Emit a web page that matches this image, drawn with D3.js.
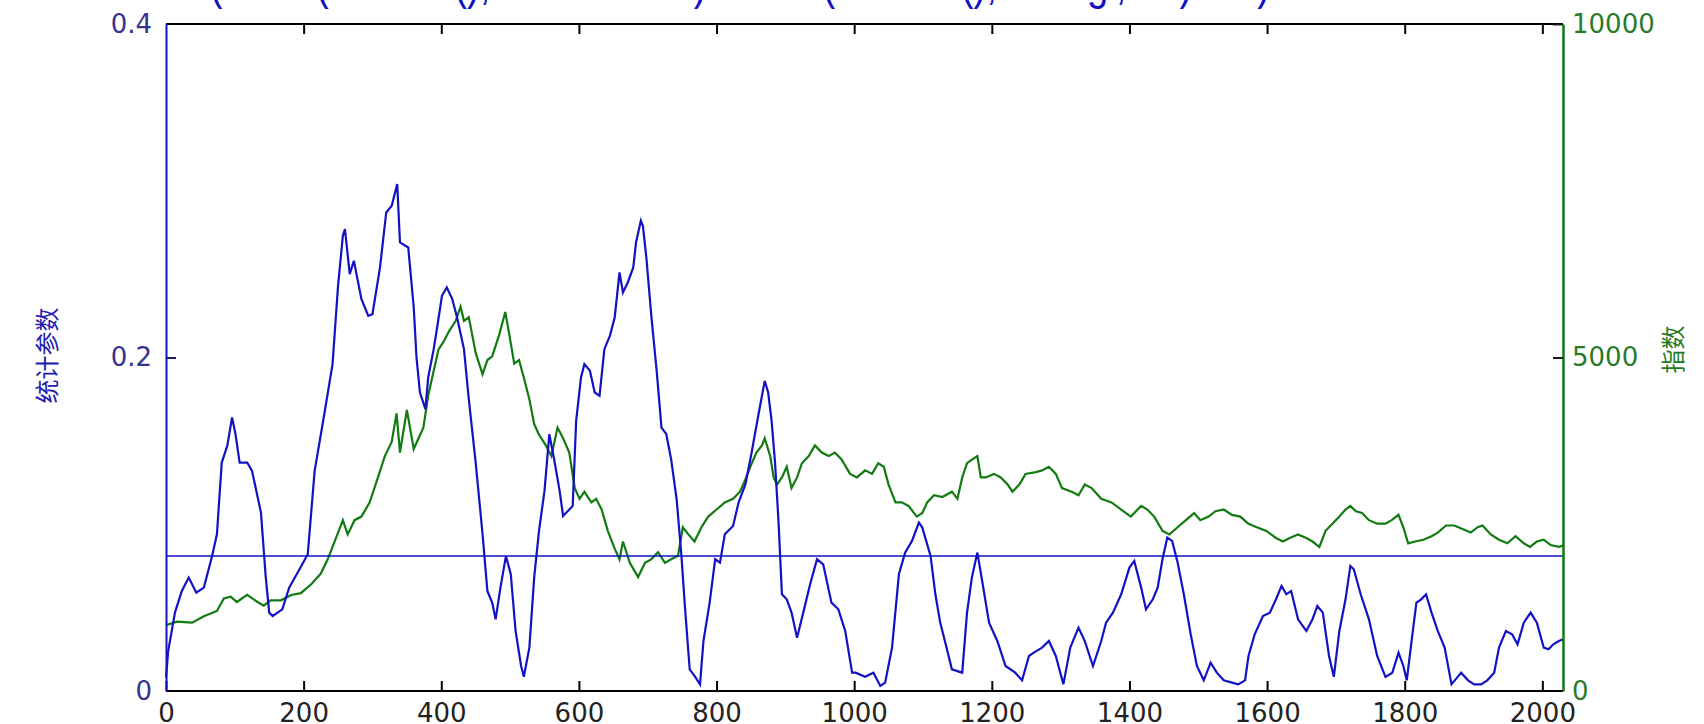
<!DOCTYPE html>
<html>
<head>
<meta charset="utf-8">
<script src="https://cdn.jsdelivr.net/npm/d3@7"></script>
<style>
    body { margin: 0; background: #fff; }
    svg { display: block; }
</style>
</head>
<body>
<script>
// statistic parameter (left axis)
var statX = [0, 1, 3, 13, 23, 33, 44, 55, 67, 74, 81, 89, 96, 101, 107, 118, 125, 138, 145, 150, 155, 169, 179, 194, 206, 216, 230, 242, 250, 257, 260, 267, 273, 284, 294, 300, 311, 320, 328, 336, 340, 352, 360, 364, 369, 377, 381, 389, 394, 401, 408, 416, 423, 433, 440, 450, 460, 467, 474, 479, 486, 494, 501, 508, 516, 520, 528, 535, 542, 550, 557, 564, 572, 577, 584, 591, 596, 603, 608, 616, 623, 630,
    637, 645, 652, 659, 664, 671, 679, 683, 690, 693, 698, 705, 713, 720, 727, 734, 742, 749, 754, 761, 769, 776, 781, 790, 798, 805, 812, 824, 832, 842, 851, 861, 870, 875, 880, 885, 890, 895, 902, 909, 917, 926, 936, 946, 955, 967, 977, 987, 997, 1002, 1016, 1028, 1038, 1045, 1055, 1065, 1074, 1084, 1094, 1099, 1111, 1118, 1125, 1133, 1142, 1157, 1164, 1171, 1179, 1186, 1196, 1208, 1220, 1234, 1244, 1254, 1261, 1273, 1283, 1293,
    1304, 1314, 1326, 1335, 1347, 1359, 1366, 1376, 1388, 1400, 1407, 1417, 1424, 1434, 1441, 1448, 1455, 1462, 1470, 1479, 1489, 1498, 1508, 1518, 1527, 1537, 1549, 1558, 1568, 1573, 1582, 1594, 1604, 1613, 1621, 1628, 1635, 1645, 1657, 1666, 1673, 1681, 1690, 1697, 1705, 1714, 1721, 1726, 1736, 1748, 1760, 1772, 1782, 1791, 1798, 1803, 1810, 1817, 1824, 1831, 1839, 1848, 1858, 1868, 1882, 1892, 1901, 1911, 1920, 1930, 1937, 1947, 1956, 1964, 1973, 1983, 1992, 2002, 2009, 2016, 2024, 2030];
var statY = [0.008, 0.0128, 0.0235, 0.047, 0.06, 0.068, 0.059, 0.062, 0.081, 0.094, 0.137, 0.147, 0.164, 0.154, 0.137, 0.137, 0.132, 0.107, 0.068, 0.047, 0.045, 0.049, 0.062, 0.073, 0.082, 0.132, 0.166, 0.196, 0.243, 0.273, 0.277, 0.25, 0.258, 0.235, 0.225, 0.226, 0.254, 0.287, 0.291, 0.304, 0.269, 0.266, 0.23, 0.2, 0.179, 0.169, 0.188, 0.205, 0.218, 0.237, 0.242, 0.235, 0.224, 0.205, 0.175, 0.137, 0.094, 0.06, 0.053, 0.043, 0.062, 0.081, 0.07, 0.036, 0.015, 0.0085, 0.026, 0.068, 0.096, 0.12, 0.154, 0.139, 0.12, 0.105, 0.108, 0.111, 0.162, 0.188, 0.196, 0.192, 0.179, 0.177,
    0.205, 0.213, 0.224, 0.251, 0.239, 0.245, 0.254, 0.269, 0.282, 0.279, 0.26, 0.226, 0.192, 0.158, 0.154, 0.139, 0.115, 0.081, 0.051, 0.013, 0.0085, 0.004, 0.03, 0.053, 0.079, 0.077, 0.094, 0.099, 0.113, 0.124, 0.143, 0.166, 0.186, 0.179, 0.162, 0.137, 0.102, 0.058, 0.055, 0.047, 0.032, 0.047, 0.064, 0.079, 0.076, 0.053, 0.049, 0.036, 0.011, 0.011, 0.0085, 0.011, 0.003, 0.005, 0.026, 0.07, 0.083, 0.09, 0.101, 0.098, 0.081, 0.058, 0.041, 0.028, 0.013, 0.011, 0.047, 0.068, 0.083, 0.066, 0.041, 0.03, 0.015, 0.011, 0.0064, 0.021, 0.023, 0.026, 0.03, 0.021,
    0.004, 0.026, 0.038, 0.03, 0.015, 0.03, 0.041, 0.047, 0.058, 0.074, 0.078, 0.062, 0.049, 0.055, 0.062, 0.079, 0.092, 0.09, 0.077, 0.058, 0.034, 0.015, 0.0064, 0.017, 0.011, 0.0064, 0.005, 0.004, 0.0064, 0.021, 0.034, 0.045, 0.047, 0.055, 0.063, 0.058, 0.06, 0.043, 0.036, 0.043, 0.051, 0.047, 0.021, 0.0085, 0.036, 0.055, 0.075, 0.073, 0.058, 0.043, 0.021, 0.0085, 0.011, 0.023, 0.015, 0.0064, 0.03, 0.053, 0.055, 0.058, 0.047, 0.036, 0.026, 0.004, 0.011, 0.0064, 0.004, 0.004, 0.0064, 0.011, 0.026, 0.036, 0.034, 0.028, 0.041, 0.047, 0.041, 0.026, 0.025, 0.028, 0.03, 0.031];

// index (right axis)
var indexX = [0, 16, 38, 55, 74, 84, 94, 103, 118, 133, 142, 152, 167, 182, 196, 211, 225, 235, 245, 257, 264, 274, 284, 296, 308, 318, 328, 335, 340, 350, 360, 367, 374, 381, 389, 396, 403, 411, 421, 428, 433, 440, 450, 460, 467, 474, 484, 493, 499, 506, 513, 520, 528, 535, 542, 552, 560, 569, 577, 586, 594, 601, 608, 618, 625,
    633, 642, 652, 659, 664, 674, 686, 696, 705, 715, 725, 734, 744, 751, 759, 768, 778, 788, 800, 812, 824, 834, 841, 849, 858, 866, 870, 878, 883, 888, 895, 902, 909, 917, 924, 934, 943, 953, 963, 972, 982, 994, 1004, 1016, 1026, 1035, 1043, 1050, 1060, 1069, 1079, 1091, 1099, 1106, 1116, 1128, 1142, 1150, 1157, 1164, 1171, 1179, 1184, 1191, 1203, 1213, 1223, 1230, 1240, 1249, 1264, 1273, 1283, 1293,
    1302, 1316, 1326, 1335, 1345, 1359, 1374, 1388, 1402, 1417, 1426, 1436, 1448, 1458, 1470, 1482, 1494, 1503, 1515, 1525, 1537, 1549, 1561, 1573, 1585, 1599, 1613, 1623, 1633, 1645, 1657, 1666, 1676, 1685, 1695, 1705, 1714, 1721, 1729, 1738, 1748, 1760, 1772, 1781, 1791, 1798, 1805, 1815, 1827, 1839, 1848, 1860, 1872, 1884, 1896, 1906, 1913, 1925, 1937, 1949, 1961, 1973, 1982, 1992, 2002, 2012, 2024, 2030];
var indexY = [987, 1040, 1025, 1120, 1200, 1387, 1414, 1334, 1440, 1334, 1280, 1360, 1360, 1440, 1467, 1600, 1761, 1974, 2241, 2561, 2348, 2561, 2615, 2828, 3202, 3522, 3735, 4162, 3575, 4215, 3629, 3789, 3949, 4429, 4802, 5122, 5229, 5389, 5549, 5762, 5549, 5603, 5069, 4749, 4962, 5016, 5336, 5683, 5336, 4909, 4962, 4696, 4376, 4002, 3842, 3682, 3522, 3949, 3789, 3575, 3042, 2881, 2988, 2828, 2881,
    2721, 2401, 2134, 1974, 2241, 1921, 1708, 1921, 1974, 2081, 1921, 1974, 2028, 2455, 2348, 2241, 2455, 2615, 2721, 2828, 2881, 2988, 3148, 3362, 3575, 3682, 3789, 3522, 3202, 3095, 3202, 3362, 3042, 3202, 3415, 3522, 3682, 3575, 3522, 3575, 3469, 3255, 3202, 3308, 3255, 3415, 3362, 3095, 2828, 2828, 2775, 2615, 2668, 2828, 2935, 2908, 2988, 2881, 3202, 3415, 3469, 3522, 3202, 3202, 3255, 3202, 3095, 2988, 3095, 3255, 3282, 3308, 3362, 3255,
    3042, 2988, 2935, 3095, 3042, 2881, 2828, 2721, 2615, 2775, 2721, 2615, 2401, 2348, 2455, 2561, 2668, 2561, 2615, 2695, 2721, 2641, 2615, 2508, 2455, 2401, 2294, 2241, 2294, 2348, 2294, 2241, 2161, 2401, 2508, 2615, 2721, 2775, 2695, 2668, 2561, 2508, 2508, 2561, 2641, 2455, 2214, 2241, 2268, 2321, 2375, 2481, 2481, 2428, 2375, 2455, 2481, 2348, 2268, 2214, 2321, 2214, 2161, 2241, 2268, 2188, 2161, 2180];

var threshold = 0.081;
var xTicks = [0, 200, 400, 600, 800, 1000, 1200, 1400, 1600, 1800, 2000];
var leftTicks = [0, 0.2, 0.4];
var rightTicks = [0, 5000, 10000];
var titleText = "result=abs(filter2(smooth(), window+10) + filter(smooth(), 'along', 10) + 1)";

var w = 1704, h = 724;
var pL = 166, pR = 1563, pT = 24, pB = 691;
var blue = "#1212c4", green = "#117a11";

var svg = d3.select("body").append("svg").attr("width", w).attr("height", h);

var x = d3.scaleLinear().domain([0, 2030]).range([pL, pR]),
    yLeft = d3.scaleLinear().domain([0, 0.4]).range([pB, pT]),
    yRight = d3.scaleLinear().domain([0, 10000]).range([pB, pT]);

// title, cropped off at the top of the picture: only descenders show
svg.append("text")
    .attr("x", 32)
    .attr("y", -1)
    .attr("textLength", 1238)
    .attr("lengthAdjust", "spacingAndGlyphs")
    .style("font", "46px 'Liberation Sans', Arial, sans-serif")
    .attr("fill", blue)
    .text(titleText);

var statLine = d3.line()
    .x(function (d, i) { return x(statX[i]); })
    .y(function (d) { return yLeft(d); });
var indexLine = d3.line()
    .x(function (d, i) { return x(indexX[i]); })
    .y(function (d) { return yRight(d); });

svg.append("path")
    .datum(indexY)
    .attr("fill", "none")
    .attr("stroke", green)
    .attr("stroke-width", 2.2)
    .attr("d", indexLine);

svg.append("path")
    .datum(statY)
    .attr("fill", "none")
    .attr("stroke", blue)
    .attr("stroke-width", 2.2)
    .attr("d", statLine);

// horizontal reference line
svg.append("line")
    .attr("x1", x(0)).attr("x2", x(2030))
    .attr("y1", yLeft(threshold)).attr("y2", yLeft(threshold))
    .attr("stroke", blue)
    .attr("stroke-width", 1.5);

var tickFont = "26px 'DejaVu Sans', sans-serif";

// bottom axis
var xAxis = svg.append("g")
    .attr("transform", "translate(0," + pB + ")")
    .call(d3.axisBottom(x).tickValues(xTicks).tickSizeInner(-10).tickSizeOuter(0).tickPadding(13).tickFormat(d3.format("d")));
xAxis.select(".domain").attr("stroke", "#000").attr("stroke-width", 2).attr("d", "M" + pL + ",0H" + pR);
xAxis.selectAll(".tick line").attr("stroke", "#000").attr("stroke-width", 2);
xAxis.selectAll("text").style("font", tickFont).attr("fill", "#222");

// top axis (box)
var topAxis = svg.append("g")
    .attr("transform", "translate(0," + pT + ")")
    .call(d3.axisTop(x).tickValues(xTicks.slice(1)).tickSizeInner(-10).tickSizeOuter(0).tickFormat(""));
topAxis.select(".domain").attr("stroke", "#000").attr("stroke-width", 2).attr("d", "M" + pL + ",0H" + pR);
topAxis.selectAll(".tick line").attr("stroke", "#000").attr("stroke-width", 2);

// left axis
var yAxisL = svg.append("g")
    .attr("transform", "translate(" + pL + ",0)")
    .call(d3.axisLeft(yLeft).tickValues(leftTicks).tickSizeInner(-10).tickSizeOuter(0).tickPadding(14)
        .tickFormat(function (d) { return d === 0 ? "0" : d3.format(".1f")(d); }));
yAxisL.select(".domain").attr("stroke", blue).attr("stroke-width", 2);
yAxisL.selectAll(".tick line").attr("stroke", "#1a1a70").attr("stroke-width", 2)
    .filter(function (d) { return d === 0 || d === 0.4; }).remove();
yAxisL.selectAll("text").style("font", tickFont).attr("fill", "#34348c");

// right axis
var yAxisR = svg.append("g")
    .attr("transform", "translate(" + pR + ",0)")
    .call(d3.axisRight(yRight).tickValues(rightTicks).tickSizeInner(-10).tickSizeOuter(0).tickPadding(9).tickFormat(d3.format("d")));
yAxisR.select(".domain").attr("stroke", green).attr("stroke-width", 2.5);
yAxisR.selectAll(".tick line").attr("stroke", "#102010").attr("stroke-width", 2)
    .filter(function (d) { return d === 0; }).remove();
yAxisR.selectAll("text").style("font", tickFont).attr("fill", "#2a7a2a");

// axis titles
svg.append("text")
    .attr("transform", "translate(48," + ((pT + pB) / 2 - 2) + ") rotate(-90)")
    .attr("text-anchor", "middle")
    .attr("dy", "0.35em")
    .style("font", "24px 'Noto Sans CJK SC', sans-serif")
    .attr("fill", "#2020b0")
    .text("统计参数");

svg.append("text")
    .attr("transform", "translate(1674," + ((pT + pB) / 2 - 8) + ") rotate(-90)")
    .attr("text-anchor", "middle")
    .attr("dy", "0.35em")
    .style("font", "24px 'Noto Sans CJK SC', sans-serif")
    .attr("fill", "#1f7a1f")
    .text("指数");
</script>
</body>
</html>
